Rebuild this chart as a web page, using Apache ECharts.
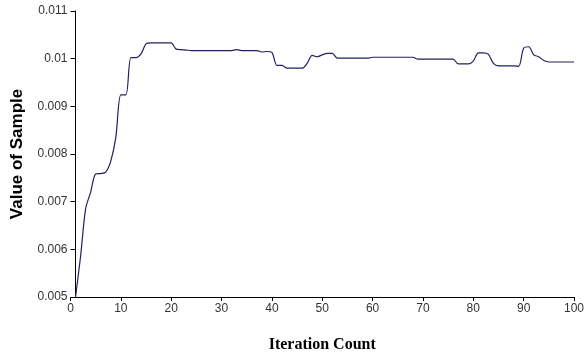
<!DOCTYPE html>
<html>
<head>
<meta charset="utf-8">
<script src="https://cdn.jsdelivr.net/npm/echarts@6/dist/echarts.min.js"></script>
<style>
  html, body { margin: 0; padding: 0; background: #fff; }
  #main { width: 587px; height: 360px; }
</style>
</head>
<body>
<div id="main"></div>
<script>
// iteration numbers and sample values
const iterations = [];
for (let i = 1; i <= 100; i++) iterations.push(i);
const sampleValues = [
  0.00500, 0.00585, 0.00685, 0.00720, 0.00758, 0.00759, 0.00762, 0.00785, 0.00835, 0.00924,
  0.00924, 0.01002, 0.01002, 0.01010, 0.01031, 0.01033, 0.01033, 0.01033, 0.01033, 0.01033,
  0.01020, 0.01019, 0.01018, 0.01017, 0.01017, 0.01017, 0.01017, 0.01017, 0.01017, 0.01017,
  0.01017, 0.01017, 0.01019, 0.01017, 0.01017, 0.01017, 0.01017, 0.01014, 0.01015, 0.01013,
  0.00986, 0.00986, 0.00980, 0.00980, 0.00980, 0.00980, 0.00990, 0.01007, 0.01004, 0.01008,
  0.01011, 0.01011, 0.01001, 0.01001, 0.01001, 0.01001, 0.01001, 0.01001, 0.01001, 0.01003,
  0.01003, 0.01003, 0.01003, 0.01003, 0.01003, 0.01003, 0.01003, 0.01003, 0.00999, 0.00999,
  0.00999, 0.00999, 0.00999, 0.00999, 0.00999, 0.00999, 0.00989, 0.00989, 0.00989, 0.00995,
  0.01012, 0.01012, 0.01009, 0.00990, 0.00985, 0.00985, 0.00985, 0.00985, 0.00984, 0.01022,
  0.01025, 0.01008, 0.01004, 0.00996, 0.00993, 0.00993, 0.00993, 0.00993, 0.00993, 0.00993
];

const chart = echarts.init(document.getElementById('main'));

const axisColor = '#000';
const labelStyle = { color: '#333', fontFamily: 'Liberation Sans', fontSize: 12 };

const option = {
  animation: false,
  grid: { left: 70.5, right: 11.5, top: 11, bottom: 63, containLabel: false },
  xAxis: {
    type: 'value',
    min: 0,
    max: 100,
    interval: 10,
    name: 'Iteration Count',
    nameLocation: 'middle',
    nameGap: 40,
    nameTextStyle: { fontFamily: 'Liberation Serif', fontWeight: 'bold', fontSize: 16, color: '#000' },
    axisLine: { onZero: false, lineStyle: { color: axisColor, width: 1 } },
    axisTick: { length: 4, lineStyle: { color: axisColor } },
    axisLabel: Object.assign({ margin: 6 }, labelStyle),
    splitLine: { show: false }
  },
  yAxis: {
    type: 'value',
    min: 0.005,
    max: 0.011,
    interval: 0.001,
    offset: -5,
    name: 'Value of Sample',
    nameLocation: 'middle',
    nameGap: 50,
    nameTextStyle: { fontFamily: 'Liberation Sans', fontWeight: 'bold', fontSize: 17, color: '#000' },
    axisLine: { show: true, lineStyle: { color: axisColor, width: 1 } },
    axisTick: { show: true, length: 5, lineStyle: { color: axisColor } },
    axisLabel: Object.assign({
      margin: 8,
      formatter: v => String(parseFloat(v.toFixed(3)))
    }, labelStyle),
    splitLine: { show: false }
  },
  series: [{
    type: 'line',
    data: iterations.map((x, i) => [x, sampleValues[i]]),
    showSymbol: false,
    smooth: 0.3,
    lineStyle: { color: '#20205e', width: 1.2 }
  }]
};

chart.setOption(option);
</script>
</body>
</html>
